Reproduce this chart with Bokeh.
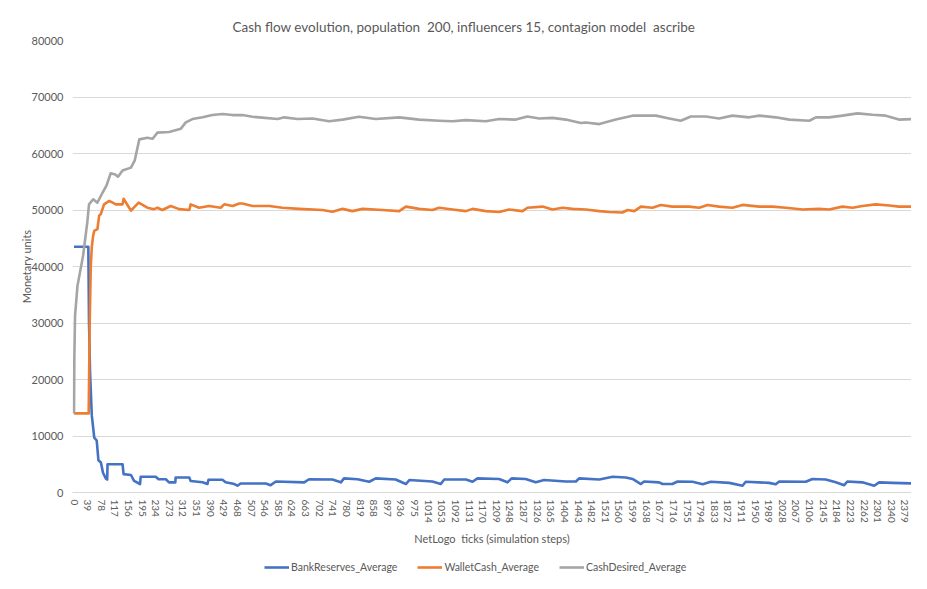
from bokeh.plotting import figure
from bokeh.layouts import column
from bokeh.models import FixedTicker, Legend, LegendItem, Range1d
from bokeh.embed import file_html
from bokeh.resources import INLINE

title_text = "Cash flow evolution, population \u00a0200, influencers 15, contagion model \u00a0ascribe"
x_label = "NetLogo \u00a0ticks (simulation steps)"
y_label = "Monetary units"
series_names = ["BankReserves_Average", "WalletCash_Average", "CashDesired_Average"]

x_ticks = list(range(0, 2380, 39))
y_ticks = [0, 10000, 20000, 30000, 40000, 50000, 60000, 70000, 80000]

bank_x = [0, 41, 43, 46, 51, 58, 65, 70, 77, 83, 91, 95, 96, 139, 142, 163, 172, 189, 191, 234,
          242, 263, 272, 290, 291, 330, 334, 368, 382, 385, 425, 434, 459, 468, 477, 549, 563, 578,
          659, 673, 740, 764, 773, 812, 845, 864, 921, 950, 960, 1026, 1050, 1060, 1122, 1141, 1155,
          1217, 1241, 1253, 1293, 1322, 1346, 1408, 1437, 1446, 1504, 1542, 1580, 1599, 1623, 1632,
          1675, 1685, 1713, 1728, 1771, 1800, 1823, 1876, 1914, 1923, 1990, 2009, 2019, 2095, 2114,
          2152, 2181, 2205, 2214, 2257, 2291, 2305, 2343, 2400]
bank_y = [43500, 43500, 30000, 21200, 13600, 9700, 9200, 5700, 5300, 3500, 2500, 2300, 5000, 5000,
          3250, 3100, 2050, 1500, 2800, 2800, 2350, 2350, 1800, 1800, 2650, 2650, 2050, 1800, 1500,
          2250, 2250, 1800, 1500, 1200, 1600, 1600, 1300, 1950, 1800, 2350, 2300, 1800, 2500, 2350,
          1900, 2500, 2300, 1500, 2200, 1950, 1500, 2300, 2300, 1900, 2500, 2400, 1800, 2500, 2400,
          1800, 2200, 1950, 1950, 2500, 2300, 2800, 2650, 2400, 1500, 1950, 1800, 1500, 1500, 1950,
          1900, 1450, 1900, 1700, 1200, 1900, 1700, 1450, 1950, 1900, 2400, 2300, 1800, 1300, 1950,
          1800, 1200, 1800, 1700, 1600]

wallet_x = [0, 42, 45, 48, 51, 55, 58, 67, 72, 77, 86, 101, 120, 139, 142, 158, 163, 185, 210, 229,
            239, 253, 277, 301, 330, 334, 358, 387, 420, 430, 454, 473, 482, 511, 559, 597, 645, 711,
            740, 769, 797, 826, 883, 931, 950, 988, 1026, 1045, 1084, 1122, 1141, 1179, 1217, 1246,
            1284, 1298, 1341, 1370, 1399, 1427, 1465, 1504, 1532, 1570, 1585, 1604, 1623, 1656, 1680,
            1713, 1761, 1790, 1814, 1847, 1885, 1914, 1962, 2000, 2038, 2086, 2133, 2162, 2200, 2229,
            2257, 2295, 2334, 2362, 2400]
wallet_y = [14000, 14000, 30000, 40000, 43500, 45500, 46300, 46600, 49000, 49300, 51000, 51600,
            51000, 51000, 52000, 50400, 49900, 51300, 50400, 50150, 50400, 50000, 50700, 50150,
            50000, 51000, 50400, 50700, 50400, 51000, 50700, 51150, 51150, 50700, 50700, 50400,
            50200, 50000, 49700, 50200, 49800, 50200, 50000, 49800, 50600, 50200, 50000, 50400,
            50100, 49800, 50200, 49800, 49650, 50100, 49800, 50400, 50600, 50100, 50400, 50200,
            50100, 49800, 49650, 49550, 50000, 49800, 50600, 50400, 50900, 50600, 50600, 50400,
            50900, 50600, 50400, 50900, 50600, 50600, 50400, 50100, 50200, 50100, 50600, 50400,
            50700, 51000, 50800, 50600, 50600]

desired_x = [0, 1, 3, 10, 26, 38, 43, 55, 67, 82, 93, 105, 118, 126, 139, 163, 174, 187, 210, 225,
             239, 272, 306, 320, 339, 368, 396, 425, 454, 482, 511, 530, 583, 602, 640, 683, 730,
             769, 816, 864, 931, 988, 1045, 1084, 1122, 1179, 1217, 1265, 1298, 1332, 1370, 1408,
             1451, 1465, 1504, 1551, 1599, 1666, 1704, 1737, 1766, 1809, 1847, 1885, 1933, 1962,
             2009, 2048, 2105, 2124, 2162, 2200, 2243, 2286, 2324, 2362, 2400]
desired_y = [14000, 24000, 31300, 36600, 41900, 47800, 51000, 51900, 51300, 53100, 54300, 56500,
             56300, 55900, 57000, 57500, 58800, 62500, 62800, 62600, 63700, 63800, 64400, 65500,
             66100, 66400, 66800, 67000, 66800, 66800, 66500, 66400, 66100, 66400, 66100, 66200,
             65700, 66000, 66500, 66100, 66400, 66000, 65800, 65700, 65900, 65700, 66100, 66000,
             66550, 66200, 66300, 66000, 65400, 65500, 65200, 66000, 66700, 66700, 66200, 65800,
             66550, 66550, 66200, 66700, 66400, 66700, 66400, 66000, 65800, 66400, 66400, 66700,
             67100, 66850, 66700, 66000, 66100]

colors = ["#4472C4", "#ED7D31", "#A5A5A5"]
FONT = "Lato"
TXT = "#595959"

p = figure(width=911, height=548, output_backend="svg", toolbar_location=None,
           x_range=Range1d(-4.3, 2397.7), y_range=Range1d(0, 80000),
           min_border_left=72, min_border_right=0, min_border_top=40, min_border_bottom=56,
           title=title_text)
p.outline_line_color = None
p.background_fill_color = "white"
p.border_fill_color = "white"

p.title.align = "left"
p.title.offset = 160
p.title.text_font = FONT
p.title.text_font_size = "13.5px"
p.title.text_font_style = "normal"
p.title.text_color = TXT
p.title.standoff = 11

for xs, ys, c in zip([bank_x, wallet_x, desired_x], [bank_y, wallet_y, desired_y], colors):
    p.line(xs, ys, line_color=c, line_width=2.6, line_join="round")

p.xgrid.grid_line_color = None
p.ygrid.grid_line_color = "#D9D9D9"
p.ygrid.grid_line_width = 1

xa = p.xaxis[0]
xa.ticker = FixedTicker(ticks=x_ticks)
xa.major_label_overrides = {t: str(t) for t in x_ticks}
xa.major_label_orientation = "vertical"
xa.axis_line_color = "#D9D9D9"
xa.major_tick_line_color = None
xa.minor_tick_line_color = None
xa.major_tick_out = 0
xa.major_label_text_font = FONT
xa.major_label_text_font_size = "10px"
xa.major_label_text_color = TXT
xa.major_label_standoff = 7
xa.axis_label = x_label
xa.axis_label_text_font = FONT
xa.axis_label_text_font_size = "11px"
xa.axis_label_text_font_style = "normal"
xa.axis_label_text_color = TXT
xa.axis_label_standoff = 6

ya = p.yaxis[0]
ya.ticker = FixedTicker(ticks=y_ticks)
ya.major_label_overrides = {t: str(t) for t in y_ticks}
ya.axis_line_color = None
ya.major_tick_line_color = None
ya.minor_tick_line_color = None
ya.major_tick_out = 0
ya.major_label_text_font = FONT
ya.major_label_text_font_size = "11px"
ya.major_label_text_color = TXT
ya.major_label_standoff = 9
ya.axis_label = y_label
ya.axis_label_text_font = FONT
ya.axis_label_text_font_size = "11px"
ya.axis_label_text_font_style = "normal"
ya.axis_label_text_color = TXT
ya.axis_label_standoff = -4

# legend strip (proxy lines lie outside the visible range; only their legend glyphs show)
lg = figure(width=911, height=25, output_backend="svg", toolbar_location=None,
            x_range=Range1d(0, 1), y_range=Range1d(0, 1),
            min_border_left=0, min_border_right=0, min_border_top=0, min_border_bottom=0,
            x_axis_type=None, y_axis_type=None)
lg.outline_line_color = None
lg.grid.visible = False
lrs = [lg.line([5, 6], [5, 6], line_color=c, line_width=2.6) for c in colors]
legend = Legend(items=[LegendItem(label=n, renderers=[r]) for n, r in zip(series_names, lrs)],
                orientation="horizontal", location=(192, 0),
                label_text_font=FONT, label_text_font_size="10.5px", label_text_color=TXT,
                glyph_width=25, glyph_height=10, label_height=12, label_standoff=2, spacing=20,
                padding=0, margin=0, border_line_color=None, background_fill_alpha=0)
lg.add_layout(legend)

layout = column(p, lg, spacing=0)
open("out.html", "w").write(file_html(layout, INLINE))
